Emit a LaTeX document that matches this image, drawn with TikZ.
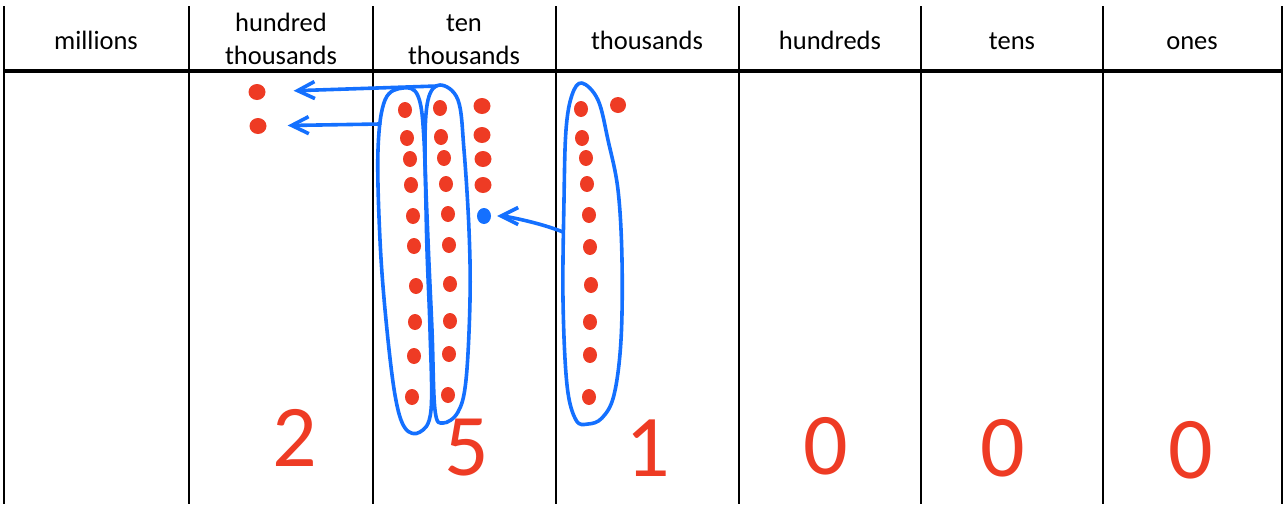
\documentclass[tikz,border=0pt]{standalone}
\usepackage{fontspec}
\setmainfont{Carlito}
\usepackage{tikz}
\usetikzlibrary{arrows.meta, shapes.geometric}
\definecolor{penred}{RGB}{238,59,36}
\definecolor{penblue}{RGB}{20,112,255}

\begin{document}
\begin{tikzpicture}[x=1pt, y=-1pt, >={Straight Barb[length=17pt, width=17pt]},
    dot/.style={ellipse, fill=penred, inner sep=0pt, minimum width=14pt, minimum height=16pt},
    ring/.style={penblue, line width=3.6pt, line cap=round, line join=round},
    move/.style={ring, ->, shorten >=#1},
    digit/.style={text=penred, font=\fontsize{88}{88}\selectfont}]
  \useasboundingbox (0,0) rectangle (1285,504);
  % place value table
  \foreach \x in {4,189,373,556,739,921,1103,1282}
    \draw[line width=2.2pt] (\x,6) -- (\x,504);
  \draw[line width=3.2pt] (4,71) -- (1282,71);
  \foreach \cx/\by/\lbl [count=\i] in {96/49/millions, 281/64/{hundred\\thousands}, 464/64/{ten\\thousands},
      647/49/thousands, 830/49/hundreds, 1012/49/tens, 1192/49/ones}
    \node[font=\fontsize{26.5}{33}\selectfont, align=center, anchor=base] (head\i) at (\cx,\by) {\lbl};

  % counters
  \node[dot, minimum width=17pt] (ht1) at (257,92) {};
  \node[dot, minimum width=17pt] (ht2) at (258,126) {};
  \foreach \x/\y [count=\i] in {405/110,407/138,410/159,411/185,413/216,414/246,416/286,415/322,414/356,412/397}
    \node[dot] (tenA\i) at (\x,\y) {};
  \foreach \x/\y [count=\i] in {440/108,441/137,444/158,446/184,448/214,449/245,450/284,450/321,449/354,448/395}
    \node[dot] (tenB\i) at (\x,\y) {};
  \foreach \x/\y [count=\i] in {482/106,482/135,483/159,483/185}
    \node[dot, minimum width=17pt] (tenC\i) at (\x,\y) {};
  \node[dot, fill=penblue] (carry) at (484,216) {};
  \foreach \x/\y [count=\i] in {581/109,582/138,586/158,587/184,589/215,590/247,591/285,590/322,590/355,589/397}
    \node[dot] (th\i) at (\x,\y) {};
  \node[dot, minimum width=16pt] (thX) at (618,105) {};

  % groups of ten
  \draw[ring] plot[smooth cycle, tension=0.6] coordinates {(403,88) (418,96) (424,140) (427,250) (430,330)
    (431,410) (420,432) (405,428) (395,395) (386,320) (380,240) (378,150) (385,100)};
  \draw[ring] plot[smooth cycle, tension=0.6] coordinates {(440,85) (458,100) (464,150) (469,230) (470,300)
    (466,380) (458,412) (443,423) (435,410) (432,330) (428,240) (425,150) (428,100)};
  \draw[ring] plot[smooth cycle, tension=0.6] coordinates {(582,83) (598,100) (608,140) (618,190) (622,260)
    (621,340) (614,395) (602,418) (588,424) (576,420) (567,385) (563,300) (564,200) (566,130) (572,95)};
  \coordinate (loopA-w) at (380,124);
  \coordinate (loopB-n) at (437,86);
  \coordinate (loopC-w) at (563,232);

  \draw[move=28pt] (loopB-n) -- (ht1);
  \draw[move=21pt] (loopA-w) -- (ht2);
  \draw[move=6pt] (loopC-w) .. controls +(-25,-10) and +(20,0) .. (carry);

  \foreach \cx/\cy/\d [count=\i] in {295/438/2, 467/448/5, 648/448/1, 826/446/0, 1003/448/0, 1191/450/0}
    \node[digit] (dig\i) at (\cx,\cy) {\d};
\end{tikzpicture}
\end{document}
